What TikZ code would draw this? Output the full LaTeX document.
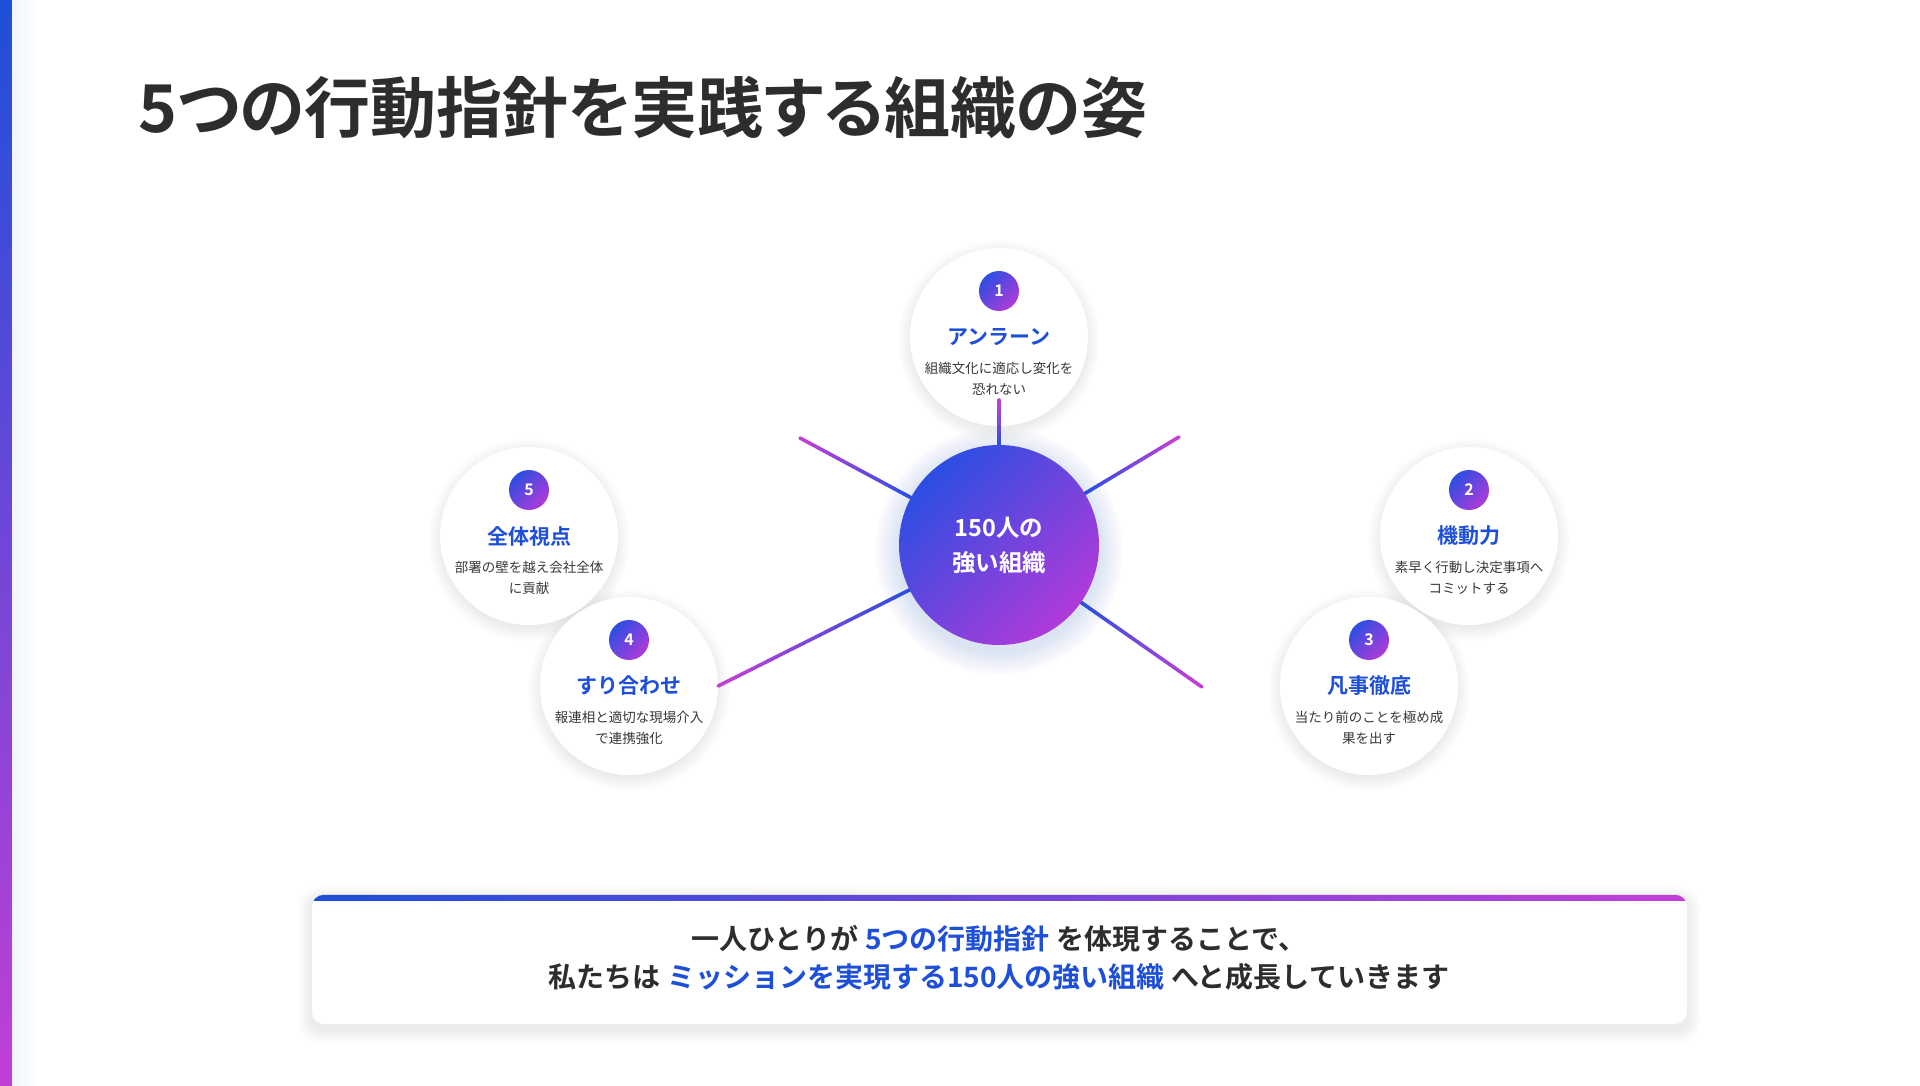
\documentclass[tikz,border=0pt]{standalone}
\usepackage{fontspec}
\setmainfont{Noto Sans CJK JP}[BoldFont={Noto Sans CJK JP Bold}]
\usetikzlibrary{calc}
\definecolor{brandblue}{HTML}{1E4FD8}
\definecolor{brandmag}{HTML}{C23FD6}
\definecolor{hubblue}{HTML}{2C4EE2}
\definecolor{hubmag}{HTML}{B03AD9}
\definecolor{headink}{HTML}{2D2D2D}
\definecolor{bodyink}{HTML}{383838}
\tikzset{
  pillar/.style={circle, fill=white, minimum size=178pt, inner sep=0pt},
  haze/.style={black, opacity=0.009},
  badge/.style={circle, minimum size=40pt, inner sep=0pt, left color=hubblue, right color=hubmag, shading angle=45,
    text=white, font=\bfseries\fontsize{16}{16}\selectfont},
  pillarhead/.style={inner sep=0pt, text=brandblue, font=\bfseries\fontsize{21}{24}\selectfont},
  pillartext/.style={inner sep=0pt, text=bodyink, align=center, font=\fontsize{13.5}{21}\selectfont},
  hub/.style={circle, minimum size=200pt, inner sep=0pt, left color=hubblue, right color=hubmag, shading angle=45,
    text=white, align=center, font=\bfseries\fontsize{23.5}{35}\selectfont},
  spokeline/.style={line width=3.6pt, line cap=round},
  banner/.style={fill=white, rounded corners=12pt, minimum width=1375pt, minimum height=129pt, inner sep=0pt},
  bannertext/.style={inner sep=0pt, text=headink, font=\bfseries\fontsize{28}{30}\selectfont}
}
\newcommand{\hl}[1]{\textcolor{brandblue}{#1}}
% spoke from a hub centre to a free end, blue fading to magenta
\newcommand{\spoke}[2]{%
  \coordinate (sp) at ($(#1)!98pt!(#2)$);
  \foreach \k in {0,...,11}{
    \pgfmathtruncatemacro{\mix}{100*\k/11}
    \draw[spokeline, draw=brandmag!\mix!hubblue] ($(sp)!{\k/12}!(#2)$) -- ($(sp)!{(\k+1)/12}!(#2)$);
  }}

\begin{document}
\begin{tikzpicture}[x=1pt, y=-1pt]
  \useasboundingbox (0,0) rectangle (1920,1085);
  \fill[white] (0,0) rectangle (1920,1085);

  % side bar
  \shade[top color=brandblue, bottom color=brandmag] (0,0) rectangle (12,1085);
  \shade[left color=brandblue!6, right color=white] (12,0) rectangle (40,1085);

  \node[anchor=west, inner sep=0pt, text=headink, font=\bfseries\fontsize{66}{66}\selectfont\addfontfeatures{RawFeature=+palt}] (title) at (138,108) {5つの行動指針を実践する組織の姿};

  % soft shadows under the pillars
  \foreach \px/\py in {999/337, 1469/536, 1369/686, 529/536, 629/686}
    \foreach \g in {1,...,10}
      \fill[haze] (\px,\py+4) circle[radius=86+1.5*\g];

  % five pillars
  \node[pillar] (p1) at (999,337) {};
  \node[pillar] (p2) at (1469,536) {};
  \node[pillar] (p3) at (1369,686) {};
  \node[pillar] (p5) at (529,536) {};
  \node[pillar] (p4) at (629,686) {};

  \node[badge] (b1) at ($(p1)+(0,-46)$) {1};
  \node[pillarhead] (h1) at (p1) {アンラーン};
  \node[pillartext] (t1) at ($(p1)+(0,42)$) {組織文化に適応し変化を\\恐れない};

  \node[badge] (b2) at ($(p2)+(0,-46)$) {2};
  \node[pillarhead] (h2) at (p2) {機動力};
  \node[pillartext] (t2) at ($(p2)+(0,42)$) {素早く行動し決定事項へ\\コミットする};

  \node[badge] (b3) at ($(p3)+(0,-46)$) {3};
  \node[pillarhead] (h3) at (p3) {凡事徹底};
  \node[pillartext] (t3) at ($(p3)+(0,42)$) {当たり前のことを極め成\\果を出す};

  \node[badge] (b4) at ($(p4)+(0,-46)$) {4};
  \node[pillarhead] (h4) at (p4) {すり合わせ};
  \node[pillartext] (t4) at ($(p4)+(0,42)$) {報連相と適切な現場介入\\で連携強化};

  \node[badge] (b5) at ($(p5)+(0,-46)$) {5};
  \node[pillarhead] (h5) at (p5) {全体視点};
  \node[pillartext] (t5) at ($(p5)+(0,42)$) {部署の壁を越え会社全体\\に貢献};

  % spokes
  \coordinate (hc) at (999,545);
  \coordinate (e1) at (999,400);
  \coordinate (e2) at (1179,437);
  \coordinate (e3) at (1202,687);
  \coordinate (e5) at (800,438);
  \spoke{hc}{e1}
  \spoke{hc}{e2}
  \spoke{hc}{e3}
  \spoke{hc}{p4.east}
  \spoke{hc}{e5}

  % glow and hub
  \foreach \g in {1,...,12}
    \fill[hubblue, opacity=0.011] ($(hc)+(0,6)$) circle[radius=100+2*\g];
  \node[hub] (hub) at (hc) {150人の\\強い組織};

  % closing message
  \foreach \g in {1,...,10}
    \fill[haze, rounded corners=12pt+\g pt] (312-1.4*\g,895-1.4*\g+5) rectangle (1687+1.4*\g,1024+1.4*\g+5);
  \node[banner] (banner) at (999.5,959.5) {};
  \begin{scope}
    \clip[rounded corners=12pt] (banner.south west) rectangle (banner.north east);
    \shade[left color=brandblue, right color=brandmag] (banner.north west) rectangle ($(banner.north east)+(0,6)$);
  \end{scope}
  \node[bannertext] (msg1) at (999,939) {一人ひとりが \hl{5つの行動指針} を体現することで、};
  \node[bannertext] (msg2) at (999,977) {私たちは \hl{ミッションを実現する150人の強い組織} へと成長していきます};
\end{tikzpicture}
\end{document}
